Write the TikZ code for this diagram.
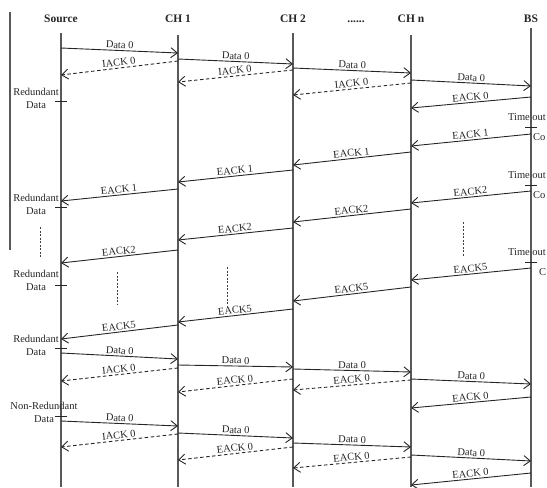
\documentclass[tikz,border=0pt]{standalone}
\usepackage{fontspec}
\setmainfont{Liberation Serif}
\usetikzlibrary{arrows.meta}

\begin{document}
\begin{tikzpicture}[x=1pt,y=-1pt,
  hdr/.style={font=\fontsize{11.5}{13}\selectfont\bfseries, anchor=base, text=black!85, inner sep=0pt},
  life/.style={line width=1.1pt, black!65},
  msg/.style={line width=0.9pt, black!85, -{Straight Barb[length=6.5pt,width=10pt]}},
  ack/.style={msg, dash pattern=on 3.5pt off 2.5pt},
  lbl/.style={font=\fontsize{10.5}{12}\selectfont, text=black!85, midway, sloped, above, inner sep=1.5pt},
  side/.style={font=\fontsize{10.5}{13}\selectfont, text=black!85, align=center, inner sep=0pt},
  tick/.style={line width=0.8pt, black!85},
  dots/.style={line width=0.9pt, black!75, dash pattern=on 2pt off 1.5pt}]
\useasboundingbox (0,0) rectangle (547,488);

% headers
\node[hdr] (src) at (61,22) {Source};
\node[hdr] (ch1) at (178,22) {CH 1};
\node[hdr] (ch2) at (293,22) {CH 2};
\node[hdr] (gap) at (356,22) {......};
\node[hdr] (chn) at (411,22) {CH n};
\node[hdr] (bs) at (531,22) {BS};

% lifelines
\draw[life] (10,12) -- (10,250);
\draw[life] (src |- 0,33) -- (src |- 0,487);
\draw[life] (ch1 |- 0,35) -- (ch1 |- 0,487);
\draw[life] (ch2 |- 0,33) -- (ch2 |- 0,487);
\draw[life] (chn |- 0,35) -- (chn |- 0,487);
\draw[life] (bs |- 0,28) -- (bs |- 0,487);

% first data round
\draw[msg] (src |- 0,48) -- node[lbl] {Data 0} (ch1 |- 0,53);
\draw[ack] (ch1 |- 0,61) -- node[lbl] {IACK 0} (src |- 0,75);
\draw[msg] (ch1 |- 0,59) -- node[lbl] {Data 0} (ch2 |- 0,64);
\draw[ack] (ch2 |- 0,70) -- node[lbl] {IACK 0} (ch1 |- 0,82);
\draw[msg] (ch2 |- 0,68) -- node[lbl] {Data 0} (chn |- 0,73);
\draw[ack] (chn |- 0,83) -- node[lbl] {IACK 0} (ch2 |- 0,95);
\draw[msg] (chn |- 0,80) -- node[lbl] {Data 0} (bs |- 0,86);
\draw[msg] (bs |- 0,97) -- node[lbl] {EACK 0} (chn |- 0,108);

% end-to-end acks
\draw[msg] (bs |- 0,134) -- node[lbl] {EACK 1} (chn |- 0,146);
\draw[msg] (chn |- 0,152) -- node[lbl] {EACK 1} (ch2 |- 0,165);
\draw[msg] (ch2 |- 0,170) -- node[lbl] {EACK 1} (ch1 |- 0,182);
\draw[msg] (ch1 |- 0,189) -- node[lbl] {EACK 1} (src |- 0,201);

\draw[msg] (bs |- 0,191) -- node[lbl] {EACK2} (chn |- 0,203);
\draw[msg] (chn |- 0,209) -- node[lbl] {EACK2} (ch2 |- 0,222);
\draw[msg] (ch2 |- 0,228) -- node[lbl] {EACK2} (ch1 |- 0,240);
\draw[msg] (ch1 |- 0,250) -- node[lbl] {EACK2} (src |- 0,263);

\draw[msg] (bs |- 0,268) -- node[lbl] {EACK5} (chn |- 0,280);
\draw[msg] (chn |- 0,287) -- node[lbl] {EACK5} (ch2 |- 0,301);
\draw[msg] (ch2 |- 0,309) -- node[lbl] {EACK5} (ch1 |- 0,322);
\draw[msg] (ch1 |- 0,325) -- node[lbl] {EACK5} (src |- 0,339);

% second data round
\draw[msg] (src |- 0,353) -- node[lbl] {Data 0} (ch1 |- 0,359);
\draw[ack] (ch1 |- 0,368) -- node[lbl] {IACK 0} (src |- 0,381);
\draw[msg] (ch1 |- 0,365) -- node[lbl] {Data 0} (ch2 |- 0,367);
\draw[ack] (ch2 |- 0,379) -- node[lbl] {EACK 0} (ch1 |- 0,392);
\draw[msg] (ch2 |- 0,369) -- node[lbl] {Data 0} (chn |- 0,372);
\draw[ack] (chn |- 0,380) -- node[lbl] {EACK 0} (ch2 |- 0,390);
\draw[msg] (chn |- 0,379) -- node[lbl] {Data 0} (bs |- 0,384);
\draw[msg] (bs |- 0,397) -- node[lbl] {EACK 0} (chn |- 0,408);

% third data round
\draw[msg] (src |- 0,421) -- node[lbl] {Data 0} (ch1 |- 0,426);
\draw[ack] (ch1 |- 0,434) -- node[lbl] {IACK 0} (src |- 0,447);
\draw[msg] (ch1 |- 0,433) -- node[lbl] {Data 0} (ch2 |- 0,438);
\draw[ack] (ch2 |- 0,447) -- node[lbl] {EACK 0} (ch1 |- 0,460);
\draw[msg] (ch2 |- 0,443) -- node[lbl] {Data 0} (chn |- 0,447);
\draw[ack] (chn |- 0,457) -- node[lbl] {EACK 0} (ch2 |- 0,468);
\draw[msg] (chn |- 0,455) -- node[lbl] {Data 0} (bs |- 0,461);
\draw[msg] (bs |- 0,473) -- node[lbl] {EACK 0} (chn |- 0,485);

% source side notes
\node[side] (rd1) at (36,98) {Redundant\\Data};
\node[side] (rd2) at (36,204) {Redundant\\Data};
\node[side] (rd3) at (36,280) {Redundant\\Data};
\node[side] (rd4) at (36,345) {Redundant\\Data};
\node[side] (nrd) at (44,412) {Non-Redundant\\Data};
\foreach \y in {101,207,285,348,416}
  \draw[tick] (src |- 0,\y) +(-6,0) -- +(6,0);
\draw[dots] (40,227) -- (40,258);

% BS side notes
\foreach \y/\nm in {117/to1,175/to2,252/to3}
  \node[side] (\nm) at (527,\y) {Time out};
\foreach \y in {127,185,262}
  \draw[tick] (bs |- 0,\y) +(-6,0) -- +(6,0);
\node[side, anchor=west] (co1) at (533,137) {Co};
\node[side, anchor=west] (co2) at (533,195) {Co};
\node[side, anchor=west] (co3) at (539,272) {C};

% vertical dots
\draw[dots] (117,272) -- (117,305);
\draw[dots] (227,267) -- (227,307);
\draw[dots] (463,222) -- (463,257);
\end{tikzpicture}
\end{document}
